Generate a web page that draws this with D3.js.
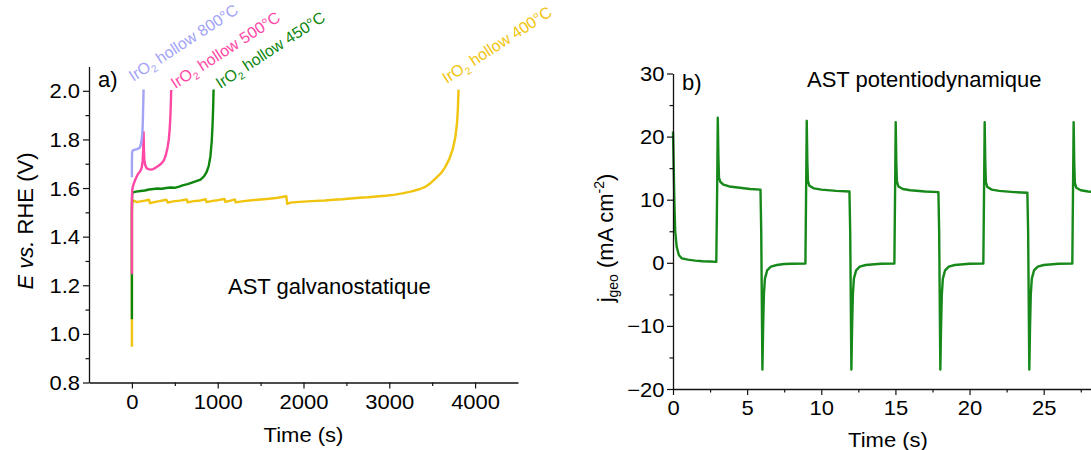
<!DOCTYPE html>
<html><head><meta charset="utf-8">
<script src="https://cdn.jsdelivr.net/npm/d3@7"></script>
<style>
html,body{margin:0;padding:0;background:#fff;}
svg{display:block;font-family:"Liberation Sans",Arial,Helvetica,sans-serif;}
</style></head><body>
<svg id="chart" width="1091" height="450"></svg>
<script>
// ---------- Panel a data: [time (s), E vs RHE (V)] ----------
const aXTicks = [0, 1000, 2000, 3000, 4000];
const aXMinor = [500, 1500, 2500, 3500];
const aYTicks = [0.8, 1.0, 1.2, 1.4, 1.6, 1.8, 2.0];
const aYMinor = [0.9, 1.1, 1.3, 1.5, 1.7, 1.9];

const seriesNames = ["IrO2 hollow 400°C", "IrO2 hollow 450°C", "IrO2 hollow 500°C", "IrO2 hollow 800°C"];
const seriesTemps = ["400°C", "450°C", "500°C", "800°C"];

const hollow400 = [[0,0.947],[0,1.50],[5,1.545],[20,1.548],[60,1.542],[100,1.545],[150,1.548],[200,1.552],[210,1.538],[260,1.542],[320,1.546],[400,1.552],[420,1.540],[480,1.545],[560,1.548],[640,1.553],[650,1.541],[720,1.546],[800,1.549],[860,1.554],[870,1.542],[940,1.547],[1000,1.550],[1080,1.555],[1090,1.543],[1150,1.548],[1200,1.553],[1210,1.541],[1300,1.546],[1400,1.550],[1500,1.553],[1600,1.556],[1700,1.560],[1800,1.566],[1810,1.535],[1850,1.540],[1950,1.543],[2050,1.545],[2150,1.547],[2250,1.549],[2350,1.552],[2450,1.554],[2550,1.557],[2650,1.560],[2750,1.562],[2850,1.565],[2950,1.568],[3050,1.572],[3150,1.578],[3250,1.585],[3350,1.595],[3420,1.605],[3480,1.620],[3540,1.640],[3600,1.660],[3650,1.685],[3700,1.720],[3740,1.760],[3770,1.810],[3790,1.870],[3800,1.930],[3807,2.005]];

const hollow450 = [[0,1.06],[0,1.52],[3,1.575],[10,1.582],[50,1.585],[100,1.588],[150,1.590],[200,1.594],[250,1.596],[300,1.598],[350,1.597],[400,1.600],[450,1.602],[500,1.601],[550,1.606],[600,1.612],[650,1.616],[700,1.622],[750,1.628],[800,1.635],[840,1.648],[870,1.665],[895,1.690],[915,1.730],[930,1.790],[940,1.860],[947,1.930],[952,2.005]];

const hollow500 = [[0,1.245],[0,1.55],[3,1.59],[10,1.605],[20,1.616],[40,1.635],[60,1.651],[80,1.662],[100,1.671],[115,1.685],[125,1.710],[132,1.760],[136,1.830],[140,1.760],[145,1.715],[155,1.695],[170,1.682],[190,1.678],[220,1.676],[250,1.678],[280,1.685],[310,1.692],[340,1.700],[370,1.712],[395,1.735],[415,1.765],[430,1.800],[440,1.840],[448,1.890],[454,1.950],[458,2.003]];

const hollow800 = [[0,1.644],[0,1.70],[2,1.745],[10,1.755],[30,1.757],[60,1.760],[90,1.765],[100,1.775],[110,1.790],[118,1.810],[124,1.840],[128,1.880],[131,1.930],[134,1.970],[136,2.005]];

// label anchor positions [time, E]
const labelAnchors = [[3671,2.028],[1029,2.007],[505,2.007],[15,2.037]];

// ---------- Panel b data: [time (s), j_geo (mA cm-2)] ----------
const bXTicks = [0, 5, 10, 15, 20, 25];
const bXMinor = [2.5, 7.5, 12.5, 17.5, 22.5, 27.5];
const bYTicks = [-20, -10, 0, 10, 20, 30];
const bYMinor = [-15, -5, 5, 15, 25];

const jgeo = [[0,20.8],[0.05,15],[0.1,9],[0.15,5],[0.25,2.5],[0.4,1.2],[0.6,0.7],[1.0,0.5],[1.5,0.35],[2.0,0.25],[2.5,0.2],[2.92,0.15],
[2.98,12],[3.02,23.0],[3.06,17],[3.1,13.5],[3.2,12.8],[3.4,12.4],[3.8,12.1],[4.5,11.9],[5.2,11.7],[5.9,11.6],
[5.95,5],[6.03,-16.9],[6.08,-10],[6.13,-5],[6.2,-2.5],[6.35,-1.2],[6.6,-0.6],[7.0,-0.35],[7.5,-0.2],[8.0,-0.15],[8.93,-0.1],
[8.98,12],[9.02,22.5],[9.06,16],[9.1,13],[9.2,12.2],[9.5,11.8],[10,11.6],[11,11.4],[11.9,11.3],
[11.95,5],[12.03,-16.9],[12.08,-10],[12.13,-5],[12.2,-2.5],[12.35,-1.2],[12.6,-0.6],[13,-0.35],[14,-0.15],[14.93,-0.1],
[14.98,12],[15.02,22.3],[15.06,16],[15.1,12.9],[15.2,12.1],[15.5,11.7],[16,11.5],[17,11.3],[17.9,11.2],
[17.95,5],[18.03,-16.9],[18.08,-10],[18.13,-5],[18.2,-2.5],[18.35,-1.2],[18.6,-0.6],[19,-0.35],[20,-0.15],[20.93,-0.1],
[20.98,12],[21.02,22.3],[21.06,16],[21.1,12.8],[21.2,12.0],[21.5,11.6],[22,11.4],[23,11.2],[23.9,11.1],
[23.95,5],[24.03,-16.9],[24.08,-10],[24.13,-5],[24.2,-2.5],[24.35,-1.2],[24.6,-0.6],[25,-0.35],[26,-0.15],[26.93,-0.1],
[26.98,12],[27.02,22.3],[27.06,16],[27.1,12.7],[27.2,11.9],[27.5,11.5],[28,11.3],[29,11.1],[29.6,11.0]];

// ---------- drawing ----------
const colors = ["#f1c40f", "#0f870f", "#ff48a6", "#a3a3f7"];
const bColor = "#17891a";
const svg = d3.select("#chart");
const axisColor = "#111";

function styleAxis(g) {
  g.selectAll("path.domain").attr("stroke", axisColor).attr("stroke-width", 1.3);
  g.selectAll(".tick line").attr("stroke", axisColor).attr("stroke-width", 1.2);
}

function drawAxes(x, y, xt, xm, yt, ym, fmtY, opts) {
  const gx = svg.append("g").attr("transform", `translate(0,${opts.xAxisY})`)
    .call(d3.axisBottom(x).tickValues(xt).tickSize(6).tickSizeOuter(0).tickFormat(d3.format("d")));
  styleAxis(gx);
  gx.selectAll("text").attr("y", 0).attr("dy", opts.xLabelDy).attr("fill", "#000")
    .style("font-size", "20px").attr("transform", "scale(1.1,1)");
  const gxm = svg.append("g").attr("transform", `translate(0,${opts.xAxisY})`)
    .call(d3.axisBottom(x).tickValues(xm).tickSize(3.5).tickFormat(""));
  gxm.select("path.domain").remove();
  styleAxis(gxm);

  const gy = svg.append("g").attr("transform", `translate(${opts.yAxisX},0)`)
    .call(d3.axisLeft(y).tickValues(yt).tickSize(6).tickSizeOuter(0).tickFormat(fmtY));
  styleAxis(gy);
  gy.selectAll("text").attr("x", -opts.yLabelGap / 1.1).attr("dy", "0.35em").attr("fill", "#000")
    .style("font-size", "20px").attr("transform", "scale(1.1,1)");
  const gym = svg.append("g").attr("transform", `translate(${opts.yAxisX},0)`)
    .call(d3.axisLeft(y).tickValues(ym).tickSize(3.5).tickFormat(""));
  gym.select("path.domain").remove();
  styleAxis(gym);
}

// Panel a
const xa = d3.scaleLinear().domain([-500, 4500]).range([89, 518]);
const ya = d3.scaleLinear().domain([0.8, 2.1]).range([382.5, 66.5]);

const lineA = d3.line().x(d => xa(d[0])).y(d => ya(d[1]));
const aSeries = [hollow400, hollow450, hollow500, hollow800];
aSeries.forEach((s, i) => {
  svg.append("path").datum(s).attr("d", lineA).attr("fill", "none")
    .attr("stroke", colors[i]).attr("stroke-width", 2.4).attr("stroke-linejoin", "round");
});

drawAxes(xa, ya, aXTicks, aXMinor, aYTicks, aYMinor, d3.format(".1f"),
  { xAxisY: 382.5, yAxisX: 89, xLabelDy: 26.5, yLabelGap: 9 });

// rotated series labels
seriesTemps.forEach((t, i) => {
  const g = svg.append("g")
    .attr("transform", `translate(${xa(labelAnchors[i][0])},${ya(labelAnchors[i][1])}) rotate(-33)`);
  const tx = g.append("text").attr("fill", colors[i]).style("font-size", "16px");
  tx.append("tspan").text("IrO");
  tx.append("tspan").attr("dy", 4).style("font-size", "10px").text("2");
  tx.append("tspan").attr("dy", -4).text(" hollow " + t);
});

// panel a labels
svg.append("text").attr("x", 98).attr("y", 87).style("font-size", "22px").text("a)");
svg.append("text").attr("x", 228).attr("y", 293.5).style("font-size", "22px").text("AST galvanostatique");
svg.append("g").attr("transform", "translate(303.5,441.5) scale(1.1,1)")
  .append("text").attr("text-anchor", "middle").style("font-size", "20px").text("Time (s)");
{
  const t = svg.append("text").attr("transform", "translate(33,221) rotate(-90)")
    .attr("text-anchor", "middle").style("font-size", "22px");
  t.append("tspan").style("font-style", "italic").text("E");
  t.append("tspan").text(" ");
  t.append("tspan").style("font-style", "italic").text("vs.");
  t.append("tspan").text(" RHE (V)");
}

// Panel b
const xb = d3.scaleLinear().domain([0, 29]).range([673, 1103]);
const yb = d3.scaleLinear().domain([-20, 30]).range([389, 73.5]);
const lineB = d3.line().x(d => xb(d[0])).y(d => yb(d[1]));
svg.append("path").datum(jgeo).attr("d", lineB).attr("fill", "none")
  .attr("stroke", bColor).attr("stroke-width", 2.4).attr("stroke-linejoin", "round");

drawAxes(xb, yb, bXTicks, bXMinor, bYTicks, bYMinor, d3.format("d"),
  { xAxisY: 389, yAxisX: 673, xLabelDy: 26, yLabelGap: 8.5 });

svg.append("text").attr("x", 682).attr("y", 90).style("font-size", "22px").text("b)");
svg.append("text").attr("x", 807).attr("y", 86.5).style("font-size", "22px").text("AST potentiodynamique");
svg.append("g").attr("transform", "translate(888,446.5) scale(1.1,1)")
  .append("text").attr("text-anchor", "middle").style("font-size", "20px").text("Time (s)");
{
  const t = svg.append("text").attr("transform", "translate(613,238) rotate(-90)")
    .attr("text-anchor", "middle").style("font-size", "22px");
  t.append("tspan").text("j");
  t.append("tspan").attr("dy", 5).style("font-size", "14px").text("geo");
  t.append("tspan").attr("dy", -5).text(" (mA cm");
  t.append("tspan").attr("dy", -9).style("font-size", "14px").text("-2");
  t.append("tspan").attr("dy", 9).text(")");
}
</script>
</body></html>
